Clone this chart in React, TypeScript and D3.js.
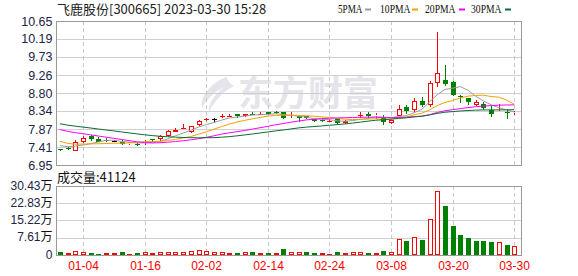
import React from "react";
import * as d3 from "d3";

// ---- data ----
const dates = [
  "12-29","12-30","01-03","01-04","01-05","01-06","01-09","01-10","01-11","01-12",
  "01-13","01-16","01-17","01-18","01-19","01-20","01-30","01-31","02-01","02-02",
  "02-03","02-06","02-07","02-08","02-09","02-10","02-13","02-14","02-15","02-16",
  "02-17","02-20","02-21","02-22","02-23","02-24","02-27","02-28","03-01","03-02",
  "03-03","03-06","03-07","03-08","03-09","03-10","03-13","03-14","03-15","03-16",
  "03-17","03-20","03-21","03-22","03-23","03-24","03-27","03-28","03-29","03-30",
];
const opens = [
  7.36,7.39,7.32,7.55,7.69,7.63,7.60,7.56,7.55,7.49,
  7.49,7.52,7.62,7.61,7.69,7.81,7.89,7.79,7.97,8.12,
  8.13,8.20,8.21,8.25,8.21,8.27,8.26,8.30,8.31,8.31,
  8.13,8.20,8.20,8.13,8.10,8.08,8.12,8.02,8.14,8.23,
  8.26,8.21,8.17,8.02,8.20,8.43,8.37,8.60,8.48,9.06,
  9.13,9.07,8.72,8.68,8.49,8.53,8.37,8.32,8.31,8.29,
];
const highs = [
  7.37,7.40,7.58,7.69,7.71,7.66,7.64,7.59,7.60,7.55,
  7.52,7.60,7.63,7.73,7.86,7.89,8.00,7.96,8.10,8.17,
  8.16,8.26,8.25,8.25,8.27,8.32,8.31,8.31,8.33,8.31,
  8.32,8.22,8.21,8.14,8.14,8.12,8.16,8.10,8.18,8.31,
  8.31,8.29,8.24,8.10,8.49,8.48,8.66,8.71,9.10,10.38,
  9.51,9.11,8.76,8.68,8.61,8.58,8.48,8.53,8.38,8.33,
];
const lows = [
  7.30,7.33,7.30,7.52,7.57,7.53,7.54,7.53,7.46,7.47,
  7.44,7.47,7.55,7.56,7.68,7.80,7.88,7.76,7.96,8.08,
  8.03,8.15,8.18,8.16,8.19,8.24,8.25,8.24,8.27,8.12,
  8.12,8.05,8.14,8.05,8.05,8.05,8.00,8.01,8.08,8.17,
  8.16,8.14,7.99,8.00,8.20,8.26,8.28,8.43,8.45,8.96,
  8.97,8.72,8.55,8.49,8.46,8.37,8.19,8.30,8.13,8.24,
];
const closes = [
  7.33,7.35,7.55,7.65,7.61,7.55,7.56,7.56,7.50,7.51,
  7.46,7.55,7.58,7.69,7.82,7.86,7.90,7.95,8.09,8.13,
  8.13,8.22,8.22,8.21,8.26,8.25,8.27,8.26,8.30,8.15,
  8.15,8.16,8.15,8.08,8.09,8.09,8.02,8.09,8.17,8.24,
  8.21,8.23,8.05,8.10,8.39,8.33,8.59,8.49,9.05,9.31,
  9.02,8.74,8.70,8.57,8.56,8.41,8.25,8.33,8.28,8.30,
];
// closes of the 29 sessions before the window (estimated from the MA lines' starting levels)
const priorCloses = [
  8.40,8.38,8.35,8.33,8.32,8.30,8.28,8.27,8.25,8.22,
  8.25,8.22,8.20,8.18,8.17,8.15,8.14,8.12,8.10,8.07,
  7.90,7.76,7.62,7.55,7.52,7.50,7.48,7.50,7.44,
];
// volume, in 万
const volumes = [
  1.3,0.9,1.75,1.3,0.9,0.45,0.9,0.9,1.3,0.45,
  0.9,1.3,0.9,1.3,1.3,1.3,1.3,1.75,2.2,1.75,
  1.3,1.3,0.9,0.9,1.3,1.3,0.9,0.9,0.9,2.6,
  1.3,1.2,1.3,0.9,0.75,0.45,1.3,0.75,1.2,1.2,
  0.9,0.9,1.8,1.2,7.0,6.2,7.9,6.7,15.9,28.3,
  21.4,12.9,8.9,7.6,6.2,6.2,5.8,5.8,4.5,4.1124,
];
const priceTicks = [6.95, 7.41, 7.87, 8.34, 8.80, 9.26, 9.73, 10.19, 10.65];
const volTicks = [0, 7.61, 15.22, 22.83, 30.43];
const volTickLabels = ["0", "7.61万", "15.22万", "22.83万", "30.43万"];
const xTickDates = ["01-04","01-16","02-02","02-14","02-24","03-08","03-20","03-30"];
const maPeriods = [5, 10, 20, 30];
const maNames = ["5PMA", "10PMA", "20PMA", "30PMA"];
const title = "飞鹿股份[300665] 2023-03-30 15:28";
const volTitle = "成交量:41124";

// ---- style ----
const W = 578, H = 276;
const L = 56, R = 522, PT = 21, PB = 165, VT = 186, VB = 255;
const RED = "#ff0000", GREEN = "#008000", BLACK = "#000000";
const maColors = ["#9c9c9c", "#f2a100", "#ff00ff", "#0b6b35"];
const labelColor = "#1c2444";

const px = (v: number) => Math.round(v) + 0.5;

export default function App() {
  const x = d3.scaleLinear().domain([0, dates.length - 1]).range([59.9, 514.2]);
  const y = d3.scaleLinear().domain([6.95, 10.65]).range([PB, PT]);
  const yv = d3.scaleLinear().domain([0, 30.43]).range([VB, VT]);

  const allCloses = priorCloses.concat(closes);
  const off = priorCloses.length;
  const mas = maPeriods.map((n) =>
    closes.map((_, i) => d3.mean(allCloses.slice(off + i - n + 1, off + i + 1)) as number)
  );
  const line = d3
    .line<number>()
    .x((_, i) => x(i))
    .y((d) => y(d));

  const prevClose = (i: number) => (i === 0 ? priorCloses[priorCloses.length - 1] : closes[i - 1]);
  const candleColor = (i: number) => {
    if (closes[i] > opens[i]) return RED;
    if (closes[i] < opens[i]) return GREEN;
    const p = prevClose(i);
    return closes[i] > p ? RED : closes[i] < p ? GREEN : BLACK;
  };
  const volColor = (i: number) => (closes[i] >= prevClose(i) ? RED : GREEN);

  const gridXs = xTickDates.map((d) => px(x(dates.indexOf(d))));

  return (
    <svg
      width={W}
      height={H}
      style={{ position: "absolute", left: 0, top: 0, background: "#fff" }}
      fontFamily="Liberation Sans, Arial, sans-serif"
    >
      <rect x={0} y={0} width={W} height={H} fill="#fff" />
      {/* title */}
      <text x={57} y={13.5} fontSize={13} fontFamily="Noto Sans CJK SC" fill="#222">
        {title}
      </text>
      {/* legend */}
      {maNames.map((n, k) => {
        const lx = [338, 380, 425, 471][k];
        const sx = [365, 412, 459, 505][k];
        return (
          <g key={n}>
            <text
              x={lx}
              y={13}
              fontSize={13.5}
              fontFamily="Liberation Serif, serif"
              fill="#111"
              textLength={n.length * 6.1}
              lengthAdjust="spacingAndGlyphs"
            >
              {n}
            </text>
            <rect x={sx} y={8.5} width={6} height={2} fill={maColors[k]} />
          </g>
        );
      })}

      {/* watermark */}
      <g fill="#e4e4ea">
        <path d="M226 77 C210 84 200 96 202 108 C206 100 214 92 224 87 C214 95 208 104 209 112 C216 98 226 90 234 86 C230 84 228 80 226 77 Z" />
        <text x={238} y={106} fontSize={35} fontWeight={700} fontFamily="Noto Sans CJK SC">
          东方财富
        </text>
      </g>

      {/* price grid */}
      {priceTicks.slice(1, -1).map((t) => (
        <line key={t} x1={L} x2={R} y1={px(y(t))} y2={px(y(t))} stroke="#cfcfcf" />
      ))}
      {volTicks.slice(1, -1).map((t) => (
        <line key={t} x1={L} x2={R} y1={px(yv(t))} y2={px(yv(t))} stroke="#cfcfcf" />
      ))}
      {gridXs.map((gx, k) => (
        <g key={k}>
          <line x1={gx} x2={gx} y1={PT} y2={PB} stroke="#c8c8c8" strokeDasharray="4,3" />
          <line x1={gx} x2={gx} y1={VT} y2={VB} stroke="#c8c8c8" strokeDasharray="4,3" />
        </g>
      ))}

      {/* candles */}
      {closes.map((c, i) => {
        const col = candleColor(i);
        const cx = px(x(i));
        const top = Math.round(y(Math.max(opens[i], c)));
        const bot = Math.round(y(Math.min(opens[i], c)));
        const hy = Math.round(y(highs[i]));
        const ly = Math.round(y(lows[i]));
        const h = bot - top;
        return (
          <g key={i}>
            {hy < top && <line x1={cx} x2={cx} y1={hy} y2={top} stroke={col} />}
            {ly > bot && <line x1={cx} x2={cx} y1={bot} y2={ly} stroke={col} />}
            {h < 1 ? (
              <line x1={cx - 2.5} x2={cx + 2.5} y1={top + 0.5} y2={top + 0.5} stroke={col} />
            ) : col === GREEN ? (
              <rect x={cx - 2.5} y={top} width={5} height={h} fill={GREEN} />
            ) : (
              <rect x={cx - 2} y={top + 0.5} width={4} height={h - 1} fill="#fff" stroke={col} />
            )}
          </g>
        );
      })}

      {/* moving averages */}
      {mas.map((m, k) => (
        <path key={k} d={line(m) || ""} fill="none" stroke={maColors[k]} strokeWidth={1} />
      ))}

      {/* volume bars */}
      {volumes.map((v, i) => {
        const col = volColor(i);
        const cx = px(x(i));
        const top = Math.round(yv(v));
        const h = VB - top;
        return col === GREEN ? (
          <rect key={i} x={cx - 2.5} y={top} width={5} height={h} fill={GREEN} />
        ) : (
          <rect key={i} x={cx - 2} y={top + 0.5} width={4} height={Math.max(h - 1, 0.5)} fill="#fff" stroke={RED} />
        );
      })}

      {/* frames */}
      <rect x={L + 0.5} y={PT + 0.5} width={R - L - 1} height={PB - PT} fill="none" stroke="#999" />
      <rect x={L + 0.5} y={VT + 0.5} width={R - L - 1} height={VB - VT} fill="none" stroke="#999" />

      {/* price axis labels */}
      {priceTicks.map((t) => (
        <text key={t} x={52.5} y={y(t) + 4.5} fontSize={12.5} textAnchor="end" fill={labelColor}>
          {t.toFixed(2)}
        </text>
      ))}
      {/* volume axis labels */}
      {volTicks.map((t, k) => {
        const lab = volTickLabels[k];
        const hasWan = lab.endsWith("万");
        return (
          <text key={t} x={hasWan ? 40.5 : 52.5} y={yv(t) + 3.5} fontSize={12} textAnchor="end" fill={labelColor}>
            {hasWan ? lab.slice(0, -1) : lab}
            {hasWan && (
              <tspan x={40.5} dx={0} fontFamily="Noto Sans CJK SC" fill="#111" textAnchor="start">
                万
              </tspan>
            )}
          </text>
        );
      })}
      <text x={57} y={182} fontSize={13} fontFamily="Noto Sans CJK SC" fill="#111">
        {volTitle}
      </text>

      {/* date labels */}
      {xTickDates.map((d, k) => (
        <text key={d} x={gridXs[k]} y={270} fontSize={12} textAnchor="middle" fill={RED}>
          {d}
        </text>
      ))}
    </svg>
  );
}
